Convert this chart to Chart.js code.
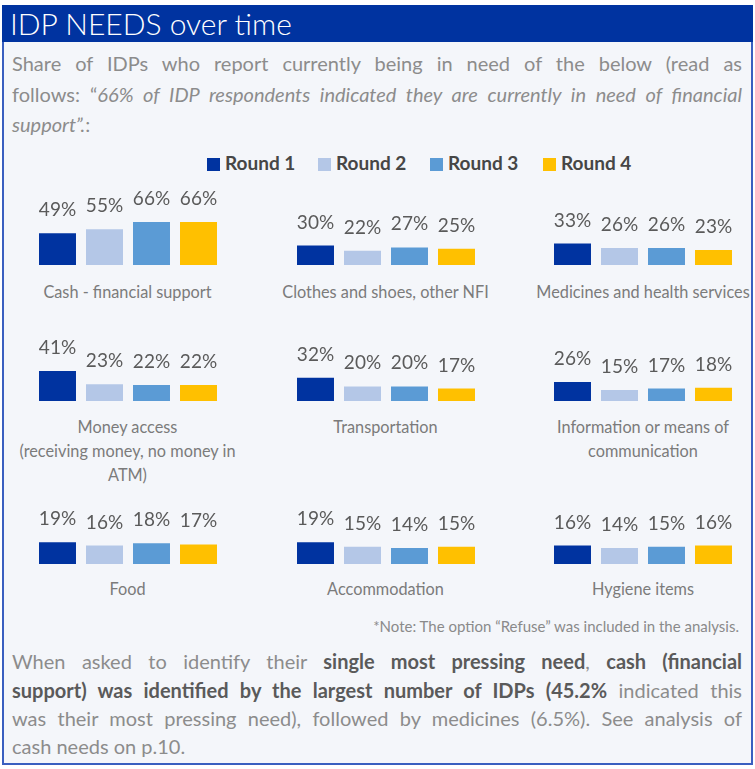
<!DOCTYPE html>
<html>
<head>
<meta charset="utf-8">
<script src="https://cdn.jsdelivr.net/npm/chart.js@4.4.1/dist/chart.umd.min.js"></script>
<style>
  body { margin: 0; background: #fff; font-family: Lato, sans-serif; width: 755px; height: 769px; overflow: hidden; }
  #box { position: absolute; left: 2px; top: 5px; width: 751px; height: 760px; box-sizing: border-box;
         border: 2px solid #3a5fc0; border-top: none; background: #f4f6fa; }
  #title { position: absolute; left: 2px; top: 5px; width: 751px; height: 37px; background: #0033a0;
           color: #fff; font-size: 30px; font-weight: 300; line-height: 37px; padding-left: 8px; box-sizing: border-box; }
  .line { position: absolute; left: 12px; width: 730px; white-space: nowrap; text-align: justify; text-align-last: justify; }
  .sub { font-size: 20px; line-height: 30px; color: #8c8c8c; }
  .para { font-size: 20px; line-height: 28px; color: #8c8c8c; }
  .para b { color: #5a5a5a; }
  .leg { position: absolute; top: 152px; font-size: 19px; font-weight: 700; color: #464646; line-height: 22px; }
  .leg span { display: inline-block; width: 13px; height: 13px; margin-right: 5px; vertical-align: -1px; }
  canvas { position: absolute; }
  .cat { position: absolute; width: 258px; text-align: center; font-size: 16.3px; line-height: 24px; color: #7b7b7b; }
  #note { position: absolute; right: 16px; top: 617px; font-size: 15px; color: #8a8a8a; }
</style>
</head>
<body>
<div id="box"></div>
<div id="title">IDP NEEDS over time</div>
<div class="line sub" style="top:48px">Share of IDPs who report currently being in need of the below (read as</div>
<div class="line sub" style="top:79px">follows: “<i>66% of IDP respondents indicated they are currently in need of financial</i></div>
<div class="line sub" style="top:109px; text-align-last:left"><i>support”.</i>:</div>
<div id="legend"></div>
<div id="panels"></div>
<div id="note">*Note: The option “Refuse” was included in the analysis.</div>
<div class="line para" style="top:647px">When asked to identify their <b>single most pressing need</b>, <b>cash (financial</b></div>
<div class="line para" style="top:676px"><b>support) was identified by the largest number of IDPs (45.2%</b> indicated this</div>
<div class="line para" style="top:704px">was their most pressing need), followed by medicines (6.5%). See analysis of</div>
<div class="line para" style="top:732px; text-align-last:left">cash needs on p.10.</div>
<script>
// data
const rounds = ['Round 1', 'Round 2', 'Round 3', 'Round 4'];
const roundColors = ['#0033a0', '#b4c7e7', '#5b9bd5', '#ffc000'];
const categories = [
  ['Cash - financial support'],
  ['Clothes and shoes, other NFI'],
  ['Medicines and health services'],
  ['Money access', '(receiving money, no money in', 'ATM)'],
  ['Transportation'],
  ['Information or means of', 'communication'],
  ['Food'],
  ['Accommodation'],
  ['Hygiene items']
];
const round1 = [49, 30, 33, 41, 32, 26, 19, 19, 16];
const round2 = [55, 22, 26, 23, 20, 15, 16, 15, 14];
const round3 = [66, 27, 26, 22, 20, 17, 18, 14, 15];
const round4 = [66, 25, 23, 22, 17, 18, 17, 15, 16];
const series = [round1, round2, round3, round4];

// layout of the 3x3 grid
const colCenter = [127.5, 385.5, 643];
const rowBottom = [265, 400.5, 564];
const rowPxPerPct = [0.65, 0.73, 1.15];
const rowCatTop = [280, 415, 577];
const canvasW = 250, canvasH = 85;

// legend
const legendX = [207, 318, 430, 543];
const legend = document.getElementById('legend');
rounds.forEach((r, i) => {
  const d = document.createElement('div');
  d.className = 'leg';
  d.style.left = legendX[i] + 'px';
  d.innerHTML = '<span style="background:' + roundColors[i] + '"></span>' + r;
  legend.appendChild(d);
});

// % labels over each bar
const valueLabels = {
  id: 'valueLabels',
  afterDatasetsDraw(chart) {
    const ctx = chart.ctx;
    ctx.save();
    ctx.font = '19px Lato';
    ctx.fillStyle = '#5a5a5a';
    ctx.textAlign = 'center';
    ctx.textBaseline = 'alphabetic';
    chart.data.datasets.forEach((ds, i) => {
      chart.getDatasetMeta(i).data.forEach((bar, j) => {
        ctx.fillText(ds.data[j] + '%', bar.x, bar.y - 17);
      });
    });
    ctx.restore();
  }
};

const panels = document.getElementById('panels');
categories.forEach((cat, k) => {
  const row = Math.floor(k / 3), col = k % 3;
  const cv = document.createElement('canvas');
  cv.width = canvasW; cv.height = canvasH;
  cv.style.left = (colCenter[col] - canvasW / 2) + 'px';
  cv.style.top = (rowBottom[row] - canvasH) + 'px';
  panels.appendChild(cv);

  const lbl = document.createElement('div');
  lbl.className = 'cat';
  lbl.style.left = (colCenter[col] - 129) + 'px';
  lbl.style.top = rowCatTop[row] + 'px';
  lbl.innerHTML = cat.join('<br>');
  panels.appendChild(lbl);

  new Chart(cv, {
    type: 'bar',
    data: {
      labels: [cat.join(' ')],
      datasets: rounds.map((r, i) => ({
        label: r,
        data: [series[i][k]],
        backgroundColor: roundColors[i],
        borderWidth: 0,
        categoryPercentage: 188 / canvasW,
        barPercentage: 0.787
      }))
    },
    options: {
      responsive: false,
      animation: false,
      layout: { padding: 0 },
      plugins: { legend: { display: false }, tooltip: { enabled: false } },
      scales: {
        x: { display: false },
        y: { display: false, min: 0, max: canvasH / rowPxPerPct[row] }
      }
    },
    plugins: [valueLabels]
  });
});
</script>
</body>
</html>
